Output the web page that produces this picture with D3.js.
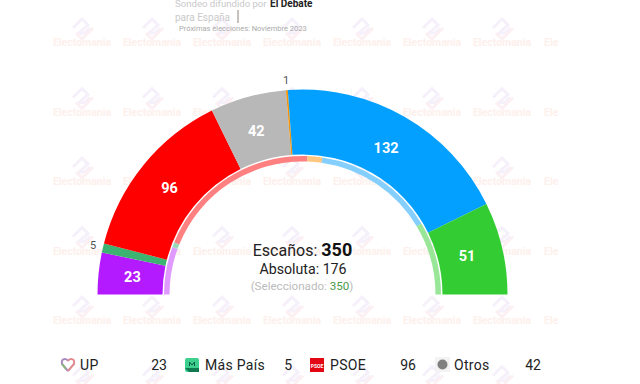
<!DOCTYPE html>
<html><head><meta charset="utf-8">
<script src="https://cdn.jsdelivr.net/npm/d3@7/dist/d3.min.js"></script>
<style>html,body{margin:0;padding:0;background:#fff}svg{display:block}text{font-family:Roboto,sans-serif}</style>
</head><body><svg id="c" width="640" height="384"></svg>
<script>
const seats=[23,5,96,42,1,132,51];
const colors=["#b41aff","#3cb371","#ff0000","#b8b8b8","#f0950f","#03a0ff","#33cc33"];
const ringSeats=[39,4,136,12,99,60];
const ringColors=["#e09aff","#9ad9b8","#ff8080","#ffc680","#85cfff","#99e699"];
const legendNames=["UP","Más País","PSOE","Otros"];
const legendSeats=[23,5,96,42];
const svg=d3.select("#c");
const cx=302.5,cy=294.5;
// watermark
const wm=svg.append("g");
const wxs=d3.range(82,510,70),wys=d3.range(28,384,69.5);
wys.forEach(y=>{
 const hasText=y+18<384;
 wxs.forEach(x=>{
  const g=wm.append("g").attr("transform",`translate(${x},${y})`);
  g.append("path").attr("d",d3.line()([[-9,0],[0,-9],[6,-3],[-3,5],[3,5],[8,0]])).attr("fill","none").attr("stroke","#f5f0fa").attr("stroke-width",3);
  g.append("path").attr("d",d3.line()([[-6,5],[0,11],[11,0]])).attr("fill","none").attr("stroke","#fcf0f3").attr("stroke-width",3);
  if(hasText)g.append("text").attr("y",18).attr("text-anchor","middle").attr("font-size",10.5).attr("font-weight",700).attr("fill","#fdf0ec").text("Electomania");
 });
 if(hasText)wm.append("text").attr("x",544).attr("y",y+18).attr("font-size",10.5).attr("font-weight",700).attr("fill","#fdf0ec").text("Ele");
});
const total=d3.sum(seats);
const ang=d3.scaleLinear().domain([0,total]).range([-Math.PI/2,Math.PI/2]);
function stack(v){let s=0;return v.map(d=>{const a=s;s+=d;return[a,s]})}
const outer=d3.arc().innerRadius(140).outerRadius(205);
const ring=d3.arc().innerRadius(133).outerRadius(138.5);
const g=svg.append("g").attr("transform",`translate(${cx},${cy})`);
stack(seats).forEach((e,i)=>{
 const a={startAngle:ang(e[0]),endAngle:ang(e[1])};
 g.append("path").attr("d",outer(a)).attr("fill",colors[i]);
});
stack(seats).forEach((e,i)=>{
 const m=ang((e[0]+e[1])/2);
 if(seats[i]>=10){
  g.append("text").attr("x",170*Math.sin(m)-1).attr("y",-170*Math.cos(m)+5.5).attr("text-anchor","middle").attr("font-size",14.5).attr("font-weight",700).attr("fill","#fff").text(seats[i]);
 } else {
  g.append("text").attr("x",215*Math.sin(m)).attr("y",-215*Math.cos(m)+3.5).attr("text-anchor","middle").attr("font-size",11).attr("fill","#555").text(seats[i]);
 }
});
stack(ringSeats).forEach((e,i)=>{
 g.append("path").attr("d",ring({startAngle:ang(e[0]),endAngle:ang(e[1])})).attr("fill",ringColors[i]);
});
// centre text
const t=svg.append("g").attr("text-anchor","middle");
const l1=t.append("text").attr("x",302.5).attr("y",255.5).attr("font-size",16).attr("fill","#222");
l1.append("tspan").text("Escaños: ");l1.append("tspan").attr("font-weight",700).attr("font-size",18).attr("fill","#111").text(total);
t.append("text").attr("x",303).attr("y",274).attr("font-size",14.2).attr("fill","#222").text("Absoluta: 176");
const l3=t.append("text").attr("x",302).attr("y",290).attr("font-size",11.6).attr("fill","#bbb");
l3.append("tspan").text("(Seleccionado: ");l3.append("tspan").attr("fill","#4a9a4a").text(total);l3.append("tspan").text(")");
// header
svg.append("text").attr("x",175).attr("y",7).attr("font-size",9.6).attr("fill","#c9c9c9").text("Sondeo difundido por");
svg.append("text").attr("x",270).attr("y",7).attr("font-size",10).attr("font-weight",700).attr("fill","#222").text("El Debate");
svg.append("text").attr("x",175).attr("y",21).attr("font-size",10).attr("fill","#c9c9c9").text("para España");
svg.append("line").attr("x1",238).attr("x2",238).attr("y1",10).attr("y2",23).attr("stroke","#b5aca5").attr("stroke-width",1.5);
svg.append("text").attr("x",179).attr("y",30.5).attr("font-size",7.5).attr("fill","#aaa").text("Próximas elecciones: Noviembre 2023");
// legend
const lx=[61,185,310,436],nx=[80,205,330,454],vx=[167,292,416,541];
legendNames.forEach((n,i)=>{
 const y=365;
 const ic=svg.append("g").attr("transform",`translate(${lx[i]},${y-7})`);
 if(i==0){
  ic.append("path").attr("d","M7,13L1,6Q0,1 4,1Q6,1 7,3").attr("fill","none").attr("stroke","#a98ac0").attr("stroke-width",2);
  ic.append("path").attr("d","M7,3Q8,1 10,1Q14,1 13,6L7,13").attr("fill","none").attr("stroke","#e08a90").attr("stroke-width",2);
  ic.append("path").attr("d","M1,6L5,11").attr("fill","none").attr("stroke","#8cb878").attr("stroke-width",2);
 }
 if(i==1){
  ic.append("rect").attr("width",14).attr("height",14).attr("rx",2).attr("fill","#3ccf8e");
  ic.append("path").attr("d","M0,10L14,10L14,14L4,14Z").attr("fill","#0f7a50");
  ic.append("path").attr("d","M4.5,8V4L7,7L9.5,4V8").attr("fill","none").attr("stroke","#0f5a40").attr("stroke-width",1);
 }
 if(i==2){
  ic.append("rect").attr("width",14).attr("height",14).attr("fill","#e30613");
  ic.append("text").attr("x",7).attr("y",9.5).attr("text-anchor","middle").attr("font-size",5).attr("font-weight",700).attr("fill","#fff").text("PSOE");
 }
 if(i==3){
  ic.append("rect").attr("x",-1).attr("y",-1).attr("width",15).attr("height",15).attr("fill","#f3f3f3");
  ic.append("circle").attr("cx",6.5).attr("cy",6.5).attr("r",5).attr("fill","#808080");
 }
 svg.append("text").attr("x",nx[i]).attr("y",y+5).attr("font-size",14).attr("letter-spacing",".3").attr("fill","#222").text(n);
 svg.append("text").attr("x",vx[i]).attr("y",y+5).attr("text-anchor","end").attr("font-size",14).attr("fill","#222").text(legendSeats[i]);
});
</script></body></html>
